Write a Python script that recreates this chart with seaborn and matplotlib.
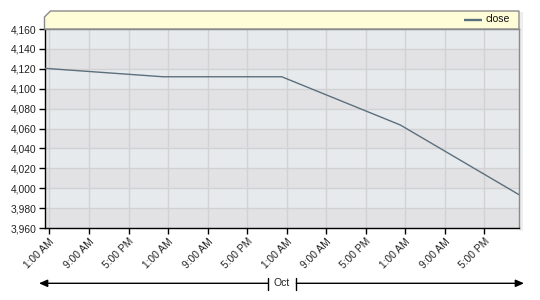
import matplotlib
matplotlib.use("Agg")
import matplotlib.pyplot as plt
import matplotlib.dates as mdates
from matplotlib.patches import Polygon, FancyArrowPatch, Rectangle
from matplotlib.lines import Line2D
from matplotlib.ticker import FuncFormatter
import seaborn as sns
import pandas as pd

# ---- data ----
dates = ["2023-10-02", "2023-10-03", "2023-10-04", "2023-10-05", "2023-10-06"]
close = [4120.5, 4112.0, 4112.0, 4063.5, 3993.5]
y_ticks = [3960, 3980, 4000, 4020, 4040, 4060, 4080, 4100, 4120, 4140, 4160]
tick_hours = [1, 9, 17]
month_label = "Oct"
series_name = "close"

sns.set_theme(style="white")
plt.rcParams['font.family'] = ['Liberation Sans', 'DejaVu Sans']

W, H = 540, 300
fig = plt.figure(figsize=(W / 100, H / 100), dpi=100)
fig.patch.set_facecolor("white")

def fx(px):
    return px / W

def fy(py):
    return 1 - py / H

L, R, T, B = 44.5, 519.0, 29.0, 228.0
ax = fig.add_axes([fx(L), fy(B), fx(R) - fx(L), fy(T) - fy(B)])

df = pd.DataFrame({"date": pd.to_datetime(dates), series_name: close})
line_color = "#5b6f7c"
sns.lineplot(data=df, x="date", y=series_name, ax=ax, color=line_color,
             lw=1.0, legend=False, zorder=3)

ax.set_xlim(df["date"].iloc[0], df["date"].iloc[-1])
ax.set_ylim(y_ticks[0], y_ticks[-1])
ax.set_yticks(y_ticks)
ax.yaxis.set_major_formatter(FuncFormatter(lambda v, p: f"{v:,.0f}"))
ax.xaxis.set_major_locator(mdates.HourLocator(byhour=tick_hours))
ax.xaxis.set_major_formatter(FuncFormatter(
    lambda v, p: mdates.num2date(v).strftime("%I:%M %p").lstrip("0")))

ax.set_xlabel("")
ax.set_ylabel("")

# background bands
ax.set_facecolor("#e2e2e4")
for i in range(1, len(y_ticks) - 1, 2):
    ax.axhspan(y_ticks[i], y_ticks[i + 1], color="#e7eaed", zorder=0, lw=0)

ax.set_axisbelow(True)
ax.grid(True, color="#d2d2d2", lw=1)

ax.tick_params(axis="both", direction="out", length=4, width=1, color="black",
               labelsize=7.4, labelcolor="#222222", bottom=True, left=True, pad=2)
for lbl in ax.get_xticklabels():
    lbl.set_rotation(45)
    lbl.set_ha("right")
    lbl.set_rotation_mode("anchor")

for s in ["left", "bottom"]:
    ax.spines[s].set_color("black")
    ax.spines[s].set_linewidth(1)
ax.spines["right"].set_color("#8a8a8a")
ax.spines["right"].set_linewidth(1)
ax.spines["top"].set_color("#8a8a8a")
ax.spines["top"].set_linewidth(1)

# subtle shadow on right
fig.patches.append(Rectangle((fx(R + 0.5), fy(B + 3)), fx(3), fy(12) - fy(B + 3),
                             transform=fig.transFigure, facecolor="#eeeeee",
                             edgecolor="none", zorder=-1))

# header band
hdr = Polygon([(fx(L), fy(T)), (fx(L), fy(17)), (fx(L + 6), fy(11)),
               (fx(R), fy(11)), (fx(R), fy(T))], closed=True,
              transform=fig.transFigure, facecolor="#fffdd8",
              edgecolor="#8a8a8a", lw=1)
fig.patches.append(hdr)
fig.lines.append(Line2D([fx(464), fx(482)], [fy(19.5), fy(19.5)],
                        transform=fig.transFigure, color=line_color, lw=1.7,
                        solid_capstyle="butt"))
fig.text(fx(485.5), fy(19.5), series_name, fontsize=7.5, va="center", ha="left",
         color="#111111")

# bottom month indicator
ya = fy(283.3)
fig.patches.append(FancyArrowPatch((fx(267.7), ya), (fx(39), ya),
                                   transform=fig.transFigure,
                                   arrowstyle="-|>,head_length=5,head_width=2.2",
                                   color="black", lw=1, shrinkA=0, shrinkB=0))
fig.patches.append(FancyArrowPatch((fx(296.3), ya), (fx(524), ya),
                                   transform=fig.transFigure,
                                   arrowstyle="-|>,head_length=5,head_width=2.2",
                                   color="black", lw=1, shrinkA=0, shrinkB=0))
for xb in (267.7, 296.3):
    fig.lines.append(Line2D([fx(xb), fx(xb)], [fy(277.5), fy(289.5)],
                            transform=fig.transFigure, color="black", lw=1))
fig.text(fx(282), ya, month_label, fontsize=7.5, ha="center", va="center",
         color="#222222")

fig.savefig("out.png", dpi=100)
